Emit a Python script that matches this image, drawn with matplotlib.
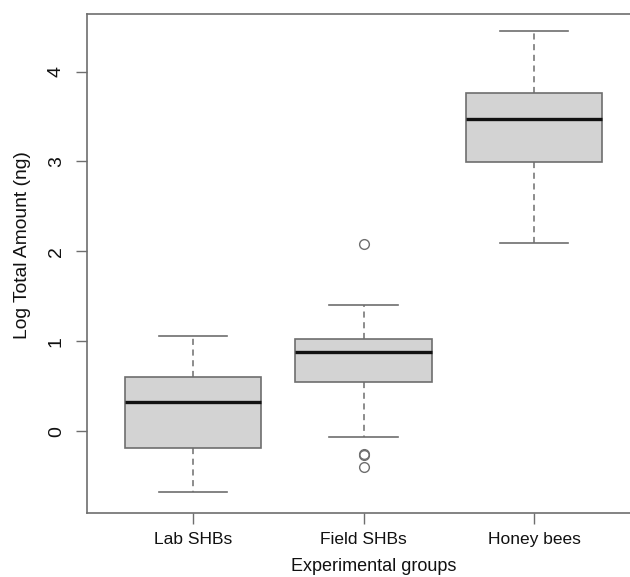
import matplotlib
matplotlib.use("Agg")
import matplotlib.pyplot as plt

plt.rcParams['font.family'] = ['Liberation Sans', 'DejaVu Sans']

groups = ['Lab SHBs', 'Field SHBs', 'Honey bees']
q1 = [-0.19, 0.55, 2.99]
medians = [0.32, 0.88, 3.47]
q3 = [0.60, 1.02, 3.76]
whis_lo = [-0.675, -0.06, 2.09]
whis_hi = [1.06, 1.40, 4.45]
fliers = [[], [2.08, -0.25, -0.27, -0.40], []]
yticks = [0, 1, 2, 3, 4]

stats = []
for i, g in enumerate(groups):
    stats.append(dict(label=g, q1=q1[i], med=medians[i], q3=q3[i],
                      whislo=whis_lo[i], whishi=whis_hi[i], fliers=fliers[i]))

fig = plt.figure(figsize=(6.3, 5.77), dpi=100)
ax = fig.add_axes([87 / 630, 1 - 513 / 577, 553 / 630, 499 / 577])

edge = '#6e6e6e'
ax.bxp(stats, positions=[1, 2, 3], widths=0.8, patch_artist=True,
       boxprops=dict(facecolor='#d3d3d3', edgecolor=edge, linewidth=1.2),
       medianprops=dict(color='#111111', linewidth=2.4),
       whiskerprops=dict(color=edge, linestyle=(0, (4, 3)), linewidth=1.1),
       capprops=dict(color=edge, linewidth=1.2),
       flierprops=dict(marker='o', markerfacecolor='none', markeredgecolor=edge,
                       markersize=7, markeredgewidth=1.0),
       capwidths=0.4)

ax.set_xlim(0.38, 3.62)
ax.set_ylim(-0.91, 4.64)
ax.set_yticks(yticks)
ax.set_yticklabels([str(t) for t in yticks], rotation=90, va='center')
ax.set_xticks([1, 2, 3])
ax.set_xticklabels(groups)
ax.tick_params(axis='both', direction='out', length=8, width=1, color=edge,
               labelcolor='#111111')
ax.tick_params(axis='x', labelsize=12.5, pad=6)
ax.tick_params(axis='y', labelsize=14, pad=8)
for s in ax.spines.values():
    s.set_color(edge)
    s.set_linewidth(1.2)

# axis titles placed by hand, R puts them slightly off-centre here
fig.text(374 / 630, 1 - 571 / 577, 'Experimental groups', fontsize=13,
         color='#111111', ha='center', va='baseline')
fig.text(23 / 630, 1 - 245 / 577, 'Log Total Amount (ng)', fontsize=13.9,
         color='#111111', ha='center', va='center', rotation=90)

fig.savefig('out.png', dpi=100)
